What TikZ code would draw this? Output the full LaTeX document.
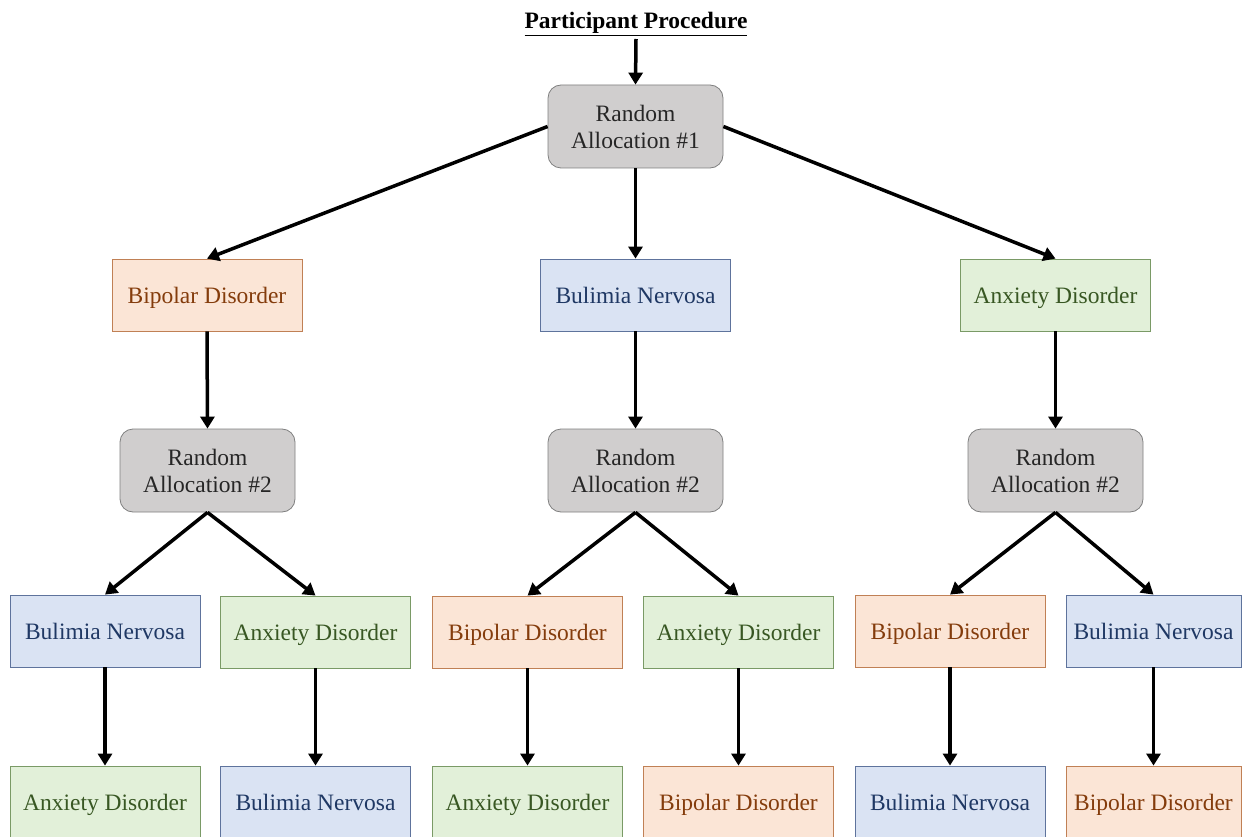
\documentclass[tikz,border=0pt]{standalone}
\usepackage{fontspec}
\setmainfont{Liberation Serif}
\usetikzlibrary{arrows.meta}
\definecolor{bpfill}{HTML}{FBE5D6}
\definecolor{bpline}{HTML}{C08055}
\definecolor{bptext}{HTML}{843C0C}
\definecolor{bnfill}{HTML}{DAE3F3}
\definecolor{bnline}{HTML}{5E739C}
\definecolor{bntext}{HTML}{1F3864}
\definecolor{axfill}{HTML}{E2F0D9}
\definecolor{axline}{HTML}{7A9A66}
\definecolor{axtext}{HTML}{385723}
\definecolor{alfill}{HTML}{D0CECE}
\definecolor{alline}{HTML}{7F7F7F}
\definecolor{altext}{HTML}{262626}
\begin{document}
\begin{tikzpicture}[x=1pt,y=-1pt,
  base/.style={draw, line width=0.8pt, inner sep=0pt,
    font=\fontsize{23.5}{27}\selectfont},
  box/.style={base, minimum width=190pt, minimum height=72pt,
    text height=17pt, text depth=1pt},
  bp/.style={box, fill=bpfill, draw=bpline, text=bptext},
  bn/.style={box, fill=bnfill, draw=bnline, text=bntext},
  ax/.style={box, fill=axfill, draw=axline, text=axtext},
  alloc/.style={base, rounded corners=13pt, fill=alfill, draw=alline, text=altext,
    minimum width=175pt, minimum height=83pt, align=center},
  narrow/.style={minimum width=175pt},
  flow/.style={-{Triangle[length=12pt,width=14pt]}, line width=3.5pt}]
\useasboundingbox (0,0) rectangle (1242,837);

% heading
\node[inner sep=1pt] (title) at (636,24) {\fontsize{23.5}{27}\selectfont\bfseries\underline{Participant Procedure}};
\coordinate (start) at (636,39);

% first allocation
\node[alloc] (r1) at (635.5,126.5) {Random\\Allocation \#1};

% first-stage conditions
\node[bp] (a) at (207,295) {Bipolar Disorder};
\node[bn] (b) at (635.5,295) {Bulimia Nervosa};
\node[ax] (c) at (1055.5,295) {Anxiety Disorder};

% second allocations
\node[alloc] (ra) at (207.5,470.5) {Random\\Allocation \#2};
\node[alloc] (rb) at (635.5,470.5) {Random\\Allocation \#2};
\node[alloc] (rc) at (1055.5,470.5) {Random\\Allocation \#2};

% second-stage conditions
\node[bn] (a1) at (105,631) {Bulimia Nervosa};
\node[ax] (a2) at (315.5,632) {Anxiety Disorder};
\node[bp] (b1) at (527.5,632) {Bipolar Disorder};
\node[ax] (b2) at (738.5,632) {Anxiety Disorder};
\node[bp] (c1) at (950,631) {Bipolar Disorder};
\node[bn,narrow] (c2) at (1153.5,631) {Bulimia Nervosa};

% third-stage conditions
\node[ax] (a1x) at (105,802) {Anxiety Disorder};
\node[bn] (a2x) at (315.5,802) {Bulimia Nervosa};
\node[ax] (b1x) at (527.5,802) {Anxiety Disorder};
\node[bp] (b2x) at (738.5,802) {Bipolar Disorder};
\node[bn] (c1x) at (950,802) {Bulimia Nervosa};
\node[bp,narrow] (c2x) at (1153.5,802) {Bipolar Disorder};

% connectors
\draw[flow] (start) -- (r1.north);
\draw[flow] (r1.west) -- (a.north);
\draw[flow] (r1.south) -- (b.north);
\draw[flow] (r1.east) -- (c.north);
\foreach \p/\q in {a/ra, b/rb, c/rc} \draw[flow] (\p.south) -- (\q.north);
\foreach \p/\q in {ra/a1, ra/a2, rb/b1, rb/b2, rc/c1, rc/c2} \draw[flow] (\p.south) -- (\q.north);
\foreach \p in {a1, a2, b1, b2, c1, c2} \draw[flow] (\p.south) -- (\p x.north);
\end{tikzpicture}
\end{document}
